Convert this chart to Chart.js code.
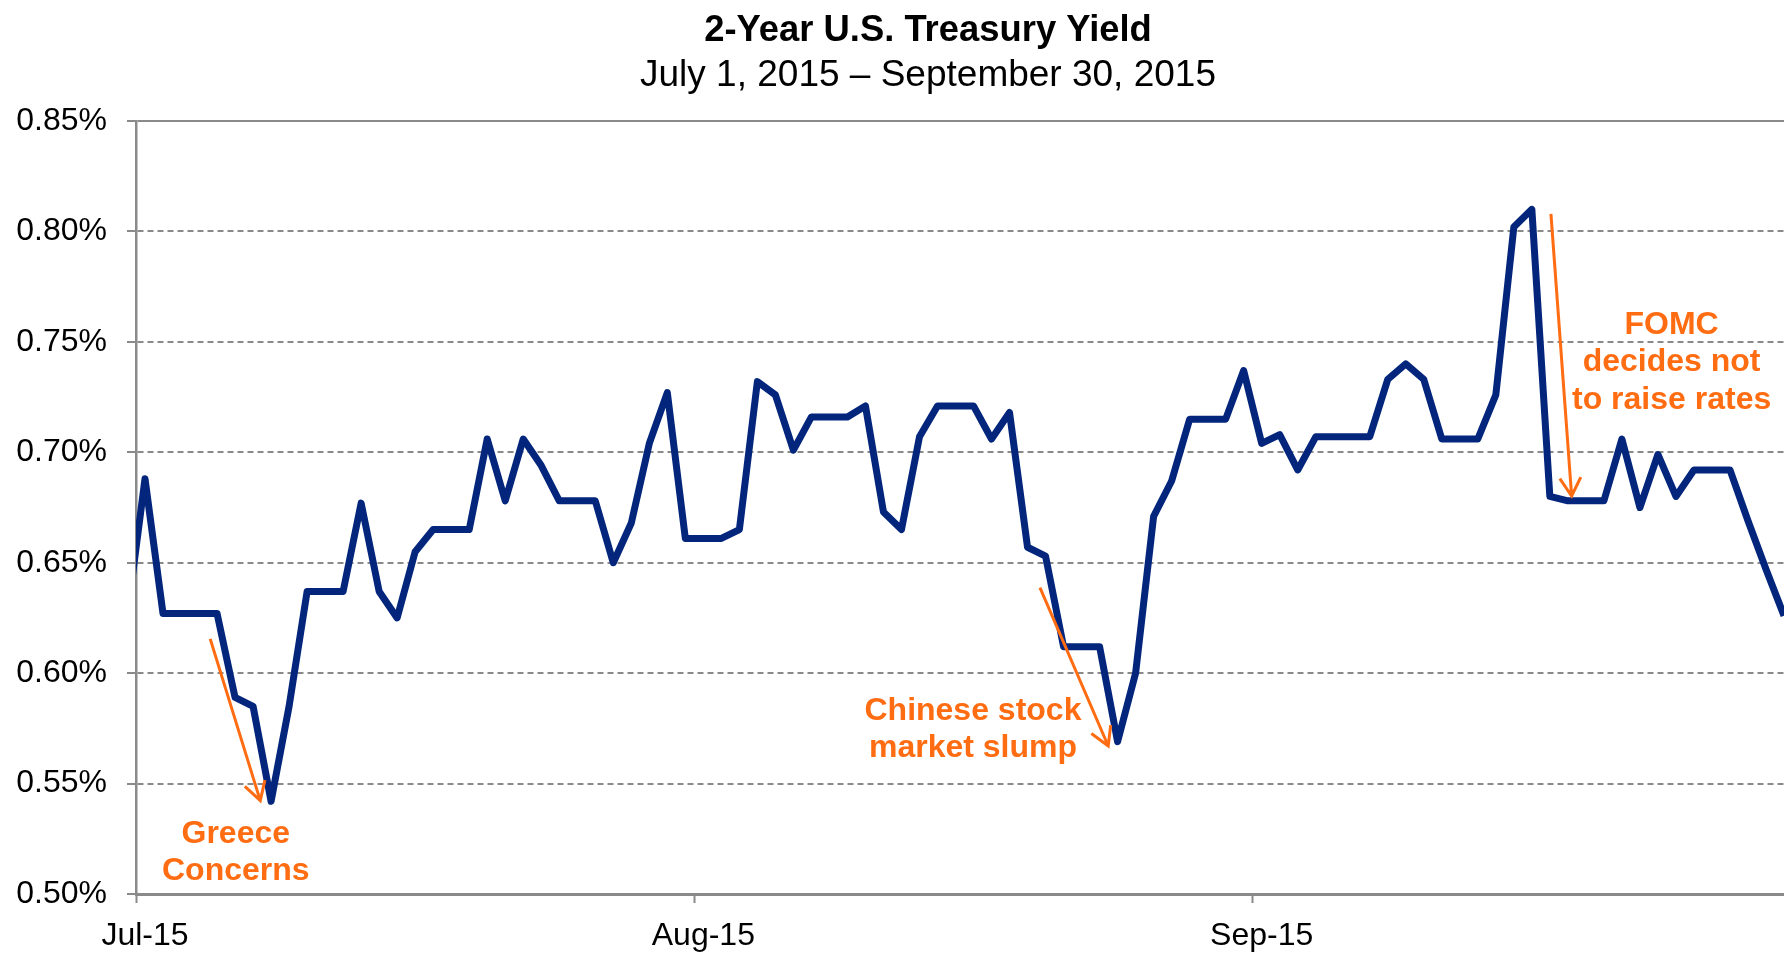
<!DOCTYPE html>
<html>
<head>
<meta charset="utf-8">
<script src="https://cdn.jsdelivr.net/npm/chart.js@4.4.1/dist/chart.umd.min.js"></script>
<style>
  html, body { margin: 0; padding: 0; background: #fff; }
  #wrap { width: 1784px; height: 955px; position: relative; }
</style>
</head>
<body>
<div id="wrap"><canvas id="yieldChart"></canvas></div>
<script>
// 2-year treasury yield (%), one value per calendar day from Jun 30, 2015
// weekends / holidays repeat the last trading day
const firstDay = -1; // Jun 30 = day -1, Jul 1 = day 0
const yields = [
  0.625,
  // July
  0.688, 0.627, 0.627, 0.627, 0.627, 0.589, 0.585, 0.542, 0.585, 0.637,
  0.637, 0.637, 0.677, 0.637, 0.625, 0.655, 0.665, 0.665, 0.665, 0.706,
  0.678, 0.706, 0.694, 0.678, 0.678, 0.678, 0.650, 0.668, 0.704, 0.727,
  0.661,
  // August
  0.661, 0.661, 0.665, 0.732, 0.726, 0.701, 0.716, 0.716, 0.716, 0.721,
  0.673, 0.665, 0.707, 0.721, 0.721, 0.721, 0.706, 0.718, 0.657, 0.653,
  0.612, 0.612, 0.612, 0.569, 0.600, 0.671, 0.687, 0.715, 0.715, 0.715,
  0.737,
  // September
  0.704, 0.708, 0.692, 0.707, 0.707, 0.707, 0.707, 0.733, 0.740, 0.733,
  0.706, 0.706, 0.706, 0.726, 0.802, 0.810, 0.680, 0.678, 0.678, 0.678,
  0.706, 0.675, 0.699, 0.680, 0.692, 0.692, 0.692, 0.669, 0.647, 0.626
];

const xTickDays = [-0.5, 30.5, 61.5];
const xTickLabels = ["Jul-15", "Aug-15", "Sep-15"];
const yMin = 0.50, yMax = 0.85, yStep = 0.05;

const chartTitle = "2-Year U.S. Treasury Yield";
const chartSubtitle = "July 1, 2015 \u2013 September 30, 2015";

// callouts: text lines, first baseline anchor (day, yield), arrow start / end
const noteTexts = [["Greece", "Concerns"], ["Chinese stock", "market slump"], ["FOMC", "decides not", "to raise rates"]];
const noteAnchors = [[5.04, 0.5231], [45.97, 0.579], [84.76, 0.7536]];
const arrowFrom = [[3.62, 0.6155], [49.69, 0.6387], [78.06, 0.8079]];
const arrowTo = [[6.40, 0.5423], [53.48, 0.567], [79.21, 0.6802]];

const navy = "#03267c";
const orange = "#ff6c12";
const gray = "#8a8a8a";
const fontFamily = "'Liberation Sans', Arial, sans-serif";

const points = yields.map((v, i) => ({ x: firstDay + i, y: v }));

function drawArrow(c, x1, y1, x2, y2) {
  const a = Math.atan2(y2 - y1, x2 - x1);
  const len = 21, spread = Math.PI / 6;
  c.beginPath();
  c.moveTo(x1, y1);
  c.lineTo(x2, y2);
  c.moveTo(x2 - len * Math.cos(a - spread), y2 - len * Math.sin(a - spread));
  c.lineTo(x2, y2);
  c.lineTo(x2 - len * Math.cos(a + spread), y2 - len * Math.sin(a + spread));
  c.stroke();
}

const titlePlugin = {
  id: "titles",
  afterDraw(chart) {
    const c = chart.ctx;
    c.save();
    c.fillStyle = "#000";
    c.textAlign = "center";
    c.textBaseline = "alphabetic";
    c.font = "bold 36.4px " + fontFamily;
    c.fillText(chartTitle, 928, 41);
    c.font = "37px " + fontFamily;
    c.fillText(chartSubtitle, 928, 86);
    c.restore();
  }
};

const notesPlugin = {
  id: "notes",
  afterDatasetsDraw(chart) {
    const c = chart.ctx;
    const xs = chart.scales.x, ys = chart.scales.y;
    c.save();
    c.strokeStyle = orange;
    c.lineWidth = 3;
    c.lineCap = "butt";
    c.lineJoin = "miter";
    for (let i = 0; i < arrowFrom.length; i++) {
      drawArrow(c,
        xs.getPixelForValue(arrowFrom[i][0]), ys.getPixelForValue(arrowFrom[i][1]),
        xs.getPixelForValue(arrowTo[i][0]), ys.getPixelForValue(arrowTo[i][1]));
    }
    c.fillStyle = orange;
    c.font = "bold 32px " + fontFamily;
    c.textAlign = "center";
    c.textBaseline = "alphabetic";
    noteTexts.forEach((lines, i) => {
      const x = xs.getPixelForValue(noteAnchors[i][0]);
      const y = ys.getPixelForValue(noteAnchors[i][1]);
      lines.forEach((t, j) => c.fillText(t, x, y + j * 37.5));
    });
    c.restore();
  }
};

new Chart(document.getElementById("yieldChart"), {
  type: "line",
  data: {
    datasets: [{
      data: points,
      borderColor: navy,
      borderWidth: 7,
      pointRadius: 0,
      tension: 0,
      borderJoinStyle: "round",
      clip: { left: 0, right: 0, top: 20, bottom: 0 }
    }]
  },
  options: {
    responsive: true,
    maintainAspectRatio: false,
    animation: false,
    layout: { padding: { left: 16, top: 121, right: 0, bottom: 0 } },
    plugins: {
      legend: { display: false },
      tooltip: { enabled: false }
    },
    scales: {
      x: {
        type: "linear",
        min: -0.5,
        max: 91,
        afterBuildTicks: (s) => { s.ticks = xTickDays.map((v) => ({ value: v })); },
        afterFit: (s) => { s.height = 61; },
        ticks: {
          callback: (v, i) => xTickLabels[i],
          labelOffset: 9,
          padding: 14,
          maxRotation: 0,
          autoSkip: false,
          color: "#000",
          font: { family: fontFamily, size: 32 }
        },
        grid: { drawOnChartArea: false, tickLength: 9, tickColor: gray, tickWidth: 2 },
        border: { color: gray, width: 3 }
      },
      y: {
        min: yMin,
        max: yMax,
        afterFit: (s) => { s.width = 120; },
        ticks: {
          stepSize: yStep,
          callback: (v) => v.toFixed(2) + "%",
          padding: 20,
          color: "#000",
          font: { family: fontFamily, size: 32 }
        },
        grid: { color: gray, lineWidth: 2, tickLength: 9, tickColor: gray, tickWidth: 2, tickBorderDash: [] },
        border: {
          color: gray,
          width: 2.5,
          dash: (ctx) => (ctx.tick && ctx.tick.value > 0.849) ? [] : [6, 4]
        }
      }
    }
  },
  plugins: [titlePlugin, notesPlugin]
});
</script>
</body>
</html>
